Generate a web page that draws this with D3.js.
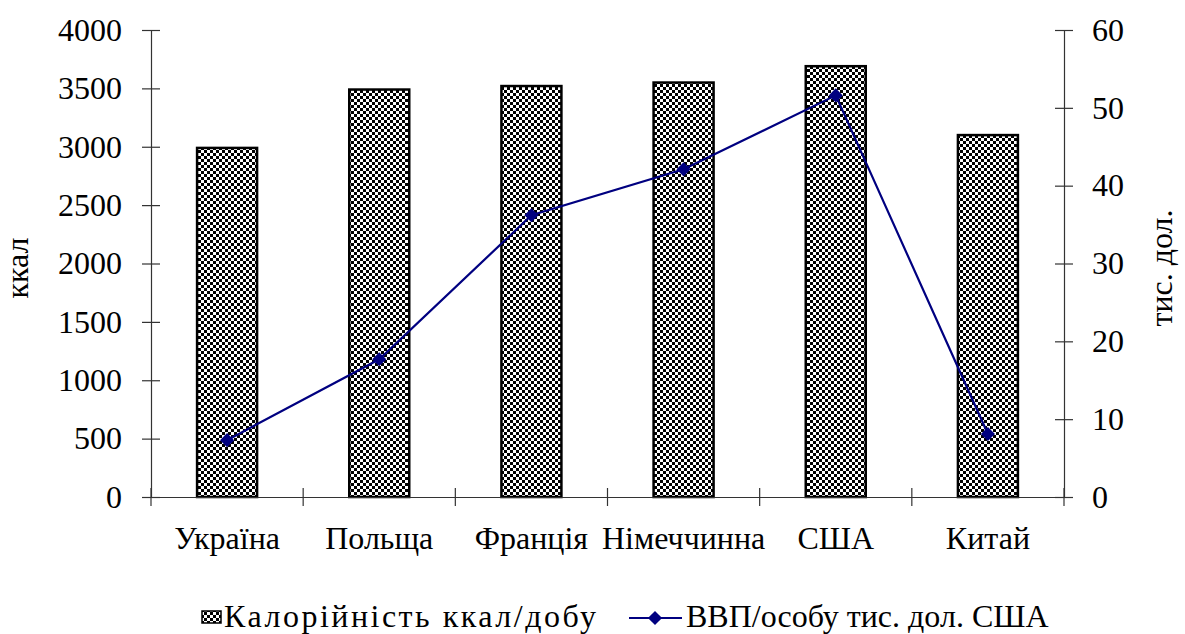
<!DOCTYPE html>
<html>
<head>
<meta charset="utf-8">
<script src="https://cdn.jsdelivr.net/npm/d3@7/dist/d3.min.js"></script>
<style>
  html, body { margin: 0; padding: 0; background: #fff; }
</style>
</head>
<body>
<svg id="chart" width="1185" height="634"></svg>
<script>
// Країни
const countries = ["Україна", "Польща", "Франція", "Німеччинна", "США", "Китай"];
// Калорійність, ккал/добу
const calories = [2990, 3490, 3520, 3550, 3690, 3100];
// ВВП на особу, тис. дол. США
const gdp = [7.3, 17.7, 36.2, 42.1, 51.6, 8.1];
const leftTicks = [0, 500, 1000, 1500, 2000, 2500, 3000, 3500, 4000];
const rightTicks = [0, 10, 20, 30, 40, 50, 60];
const seriesNames = ["Калорійність ккал/добу", "ВВП/особу тис. дол. США"];

const FONT = "'Liberation Serif', 'Times New Roman', serif";
const FS = 32;
const svg = d3.select("#chart").attr("font-family", FONT);
const plotLeft = 151, plotRight = 1064, plotTop = 30, plotBottom = 497;
const lineColor = "#000080";
const axisColor = "#333";

// checkerboard fill for the bars
const defs = svg.append("defs");
const pat = defs.append("pattern").attr("id", "checker")
  .attr("patternUnits", "userSpaceOnUse").attr("width", 6).attr("height", 6);
pat.append("rect").attr("width", 6).attr("height", 6).attr("fill", "#fff");
pat.append("rect").attr("x", 0).attr("y", 0).attr("width", 3).attr("height", 3).attr("fill", "#000");
pat.append("rect").attr("x", 3).attr("y", 3).attr("width", 3).attr("height", 3).attr("fill", "#000");

const xb = d3.scaleBand().domain(countries).range([plotLeft, plotRight]);
const yL = d3.scaleLinear().domain([0, 4000]).range([plotBottom, plotTop]);
const yR = d3.scaleLinear().domain([0, 60]).range([plotBottom, plotTop]);
const cx = d => xb(d) + xb.bandwidth() / 2;

// bars
svg.append("g").selectAll("rect").data(countries).join("rect")
  .attr("x", d => cx(d) - 30)
  .attr("width", 60)
  .attr("y", (d, i) => yL(calories[i]))
  .attr("height", (d, i) => plotBottom - yL(calories[i]))
  .attr("fill", "url(#checker)")
  .attr("stroke", "#000").attr("stroke-width", 2.5);

function styleAxis(g) {
  g.attr("font-family", FONT).attr("font-size", FS);
  g.select(".domain").attr("stroke", axisColor).attr("stroke-width", 1.2);
  g.selectAll(".tick text").attr("fill", "#000");
}

// left axis
const axL = svg.append("g").attr("transform", `translate(${plotLeft},0)`)
  .call(d3.axisLeft(yL).tickValues(leftTicks).tickFormat(d3.format("d")).tickSize(0).tickPadding(29));
styleAxis(axL);
axL.selectAll(".tick line").attr("x1", -9).attr("x2", 9).attr("stroke", axisColor).attr("stroke-width", 1.2);

// right axis
const axR = svg.append("g").attr("transform", `translate(${plotRight},0)`)
  .call(d3.axisRight(yR).tickValues(rightTicks).tickFormat(d3.format("d")).tickSize(0).tickPadding(28));
styleAxis(axR);
axR.selectAll(".tick line").attr("x1", -9).attr("x2", 9).attr("stroke", axisColor).attr("stroke-width", 1.2);

// category axis
const axB = svg.append("g").attr("transform", `translate(0,${plotBottom})`)
  .call(d3.axisBottom(xb).tickSize(0).tickPadding(29));
styleAxis(axB);
axB.selectAll(".tick line").remove();
const bounds = countries.map(c => xb(c)).concat([plotRight]);
axB.selectAll("line.sep").data(bounds).join("line").attr("class", "sep")
  .attr("x1", d => d).attr("x2", d => d).attr("y1", -9).attr("y2", 9)
  .attr("stroke", axisColor).attr("stroke-width", 1.2);

// GDP line with diamond markers
svg.append("path")
  .datum(countries)
  .attr("d", d3.line().x(d => cx(d)).y((d, i) => yR(gdp[i])))
  .attr("fill", "none").attr("stroke", lineColor).attr("stroke-width", 2.2);
const diamond = d3.symbol().type(d3.symbolSquare).size(100);
svg.append("g").selectAll("path").data(countries).join("path")
  .attr("d", diamond)
  .attr("transform", (d, i) => `translate(${cx(d)},${yR(gdp[i])}) rotate(45)`)
  .attr("fill", lineColor);

// axis titles
svg.append("text").attr("transform", `translate(28,268) rotate(-90)`)
  .attr("text-anchor", "middle").attr("font-size", FS).text("ккал");
svg.append("text").attr("transform", `translate(1172,268) rotate(-90)`)
  .attr("text-anchor", "middle").attr("font-size", FS).text("тис. дол.");

// legend
const lg = svg.append("g").attr("font-size", FS);
lg.append("rect").attr("x", 202).attr("y", 611).attr("width", 19).attr("height", 12)
  .attr("fill", "url(#checker)").attr("stroke", "#000").attr("stroke-width", 1.5);
lg.append("text").attr("x", 224).attr("y", 627)
  .attr("textLength", 372).attr("lengthAdjust", "spacing").text(seriesNames[0]);
lg.append("line").attr("x1", 629).attr("x2", 682).attr("y1", 618).attr("y2", 618)
  .attr("stroke", lineColor).attr("stroke-width", 2.2);
lg.append("path").attr("d", diamond).attr("transform", "translate(655,618) rotate(45)").attr("fill", lineColor);
lg.append("text").attr("x", 686).attr("y", 627).text(seriesNames[1]);
</script>
</body>
</html>
